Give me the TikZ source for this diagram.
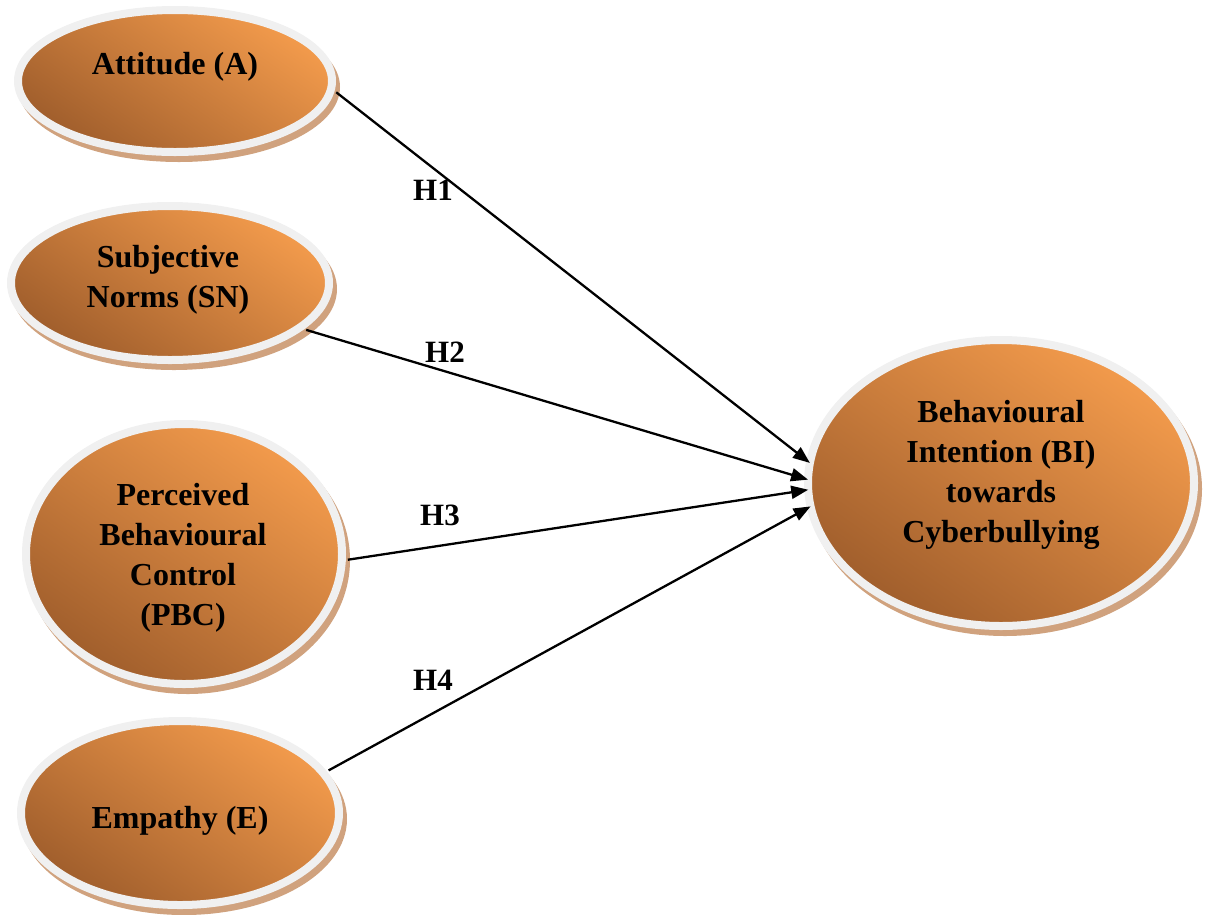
\documentclass[tikz,border=0pt]{standalone}
\usepackage{fontspec}
\setmainfont{Liberation Serif}
\usetikzlibrary{arrows.meta,shapes.geometric}
\definecolor{oLight}{RGB}{243,155,76}
\definecolor{oDark}{RGB}{160,94,44}
\definecolor{rimc}{RGB}{240,240,240}
\definecolor{shadc}{RGB}{208,162,126}
\begin{document}
\begin{tikzpicture}[x=1pt,y=-1pt,
  oval/.style={ellipse, inner sep=0pt, outer sep=6pt, draw=rimc, line width=8pt,
    top color=oLight, bottom color=oDark, shading angle=-35},
  shadowfill/.style={fill=shadc},
  lbl/.style={font=\bfseries\fontsize{32}{40}\selectfont, align=center, anchor=base, inner sep=0pt},
  hyp/.style={font=\bfseries\fontsize{31}{36}\selectfont, anchor=base, inner sep=0pt},
  arr/.style={-{Triangle[length=17pt,width=13pt]}, line width=2.3pt}]
\useasboundingbox (0,0) rectangle (1206,914);
% shadows
\fill[shadowfill] (179,87) ellipse [x radius=161, y radius=75];
\fill[shadowfill] (174,289) ellipse [x radius=163, y radius=81];
\fill[shadowfill] (188,560) ellipse [x radius=162, y radius=134];
\fill[shadowfill] (184,819) ellipse [x radius=163, y radius=96];
\fill[shadowfill] (1005,489) ellipse [x radius=197, y radius=147];
% ellipses
\node[oval, minimum width=314pt, minimum height=142pt] (A) at (175,81) {};
\node[oval, minimum width=318pt, minimum height=154pt] (SN) at (170,283) {};
\node[oval, minimum width=316pt, minimum height=260pt] (PBC) at (184,554) {};
\node[oval, minimum width=318pt, minimum height=184pt] (E) at (180,813) {};
\node[oval, outer sep=0pt, minimum width=386pt, minimum height=286pt] (BI) at (1001,483) {};
% texts (anchor = baseline of last line)
\node[lbl] (tA) at (175,74) {Attitude (A)};
\node[lbl] (tSN) at (168,307) {Subjective\\Norms (SN)};
\node[lbl] (tPBC) at (183,625) {Perceived\\Behavioural\\Control\\(PBC)};
\node[lbl] (tE) at (180,828) {Empathy (E)};
\node[lbl] (tBI) at (1001,542) {Behavioural\\Intention (BI)\\towards\\Cyberbullying};
% connectors
\draw[arr] (A.-4.5) -- (BI.174);
\draw[arr] (SN.-19.6) -- (BI.179.4);
\draw[arr] (PBC.-2.7) -- (BI.182.8);
\draw[arr] (E.16) -- (BI.187.5);
% hypothesis labels
\node[hyp] (h1) at (433,200) {H1};
\node[hyp] (h2) at (445,362) {H2};
\node[hyp] (h3) at (440,525) {H3};
\node[hyp] (h4) at (433,690) {H4};
\end{tikzpicture}
\end{document}
